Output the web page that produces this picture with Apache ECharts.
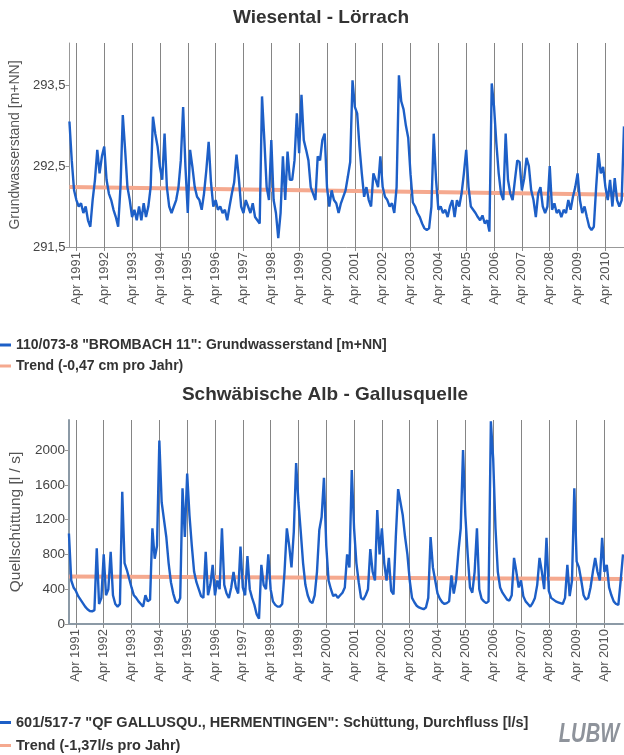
<!DOCTYPE html>
<html><head><meta charset="utf-8">
<script src="https://cdn.jsdelivr.net/npm/echarts@6/dist/echarts.min.js"></script>
<style>html,body{margin:0;padding:0;background:#fff}#c{width:624px;height:755px}</style>
</head><body><div id="c"></div>
<script>
// ---- data ----
const months = ['Jan','Feb','Mär','Apr','Mai','Jun','Jul','Aug','Sep','Okt','Nov','Dez'];
const years = [1991,1992,1993,1994,1995,1996,1997,1998,1999,2000,2001,2002,2003,2004,2005,2006,2007,2008,2009,2010];
const categories = [];
years.forEach(y => months.forEach(m => categories.push(m + ' ' + y)));

// Wiesental - Lörrach, Grundwasserstand [m+NN], monthly (Jan 1991 - Dez 2010)
const groundwater = [
 293.05,292.57,292.20,292.08,292.00,292.04,291.92,292.00,291.83,291.75,292.08,292.33,
 292.70,292.41,292.62,292.74,292.33,292.16,292.08,291.96,291.87,291.75,292.24,293.13,
 292.70,292.24,292.08,291.87,291.96,291.83,292.00,291.83,292.04,291.87,292.00,292.24,
 293.11,292.90,292.74,292.49,292.33,292.90,292.24,292.00,291.92,292.00,292.08,292.24,
 292.57,293.23,292.49,291.92,292.70,292.49,292.24,292.12,292.08,291.96,292.16,292.45,
 292.80,292.30,292.00,292.08,291.96,292.00,291.92,291.96,291.83,292.00,292.16,292.30,
 292.64,292.35,292.00,291.92,292.08,292.00,291.92,292.04,291.87,291.83,291.79,293.36,
 292.82,292.24,292.08,292.82,292.08,291.92,291.61,291.92,292.62,292.08,292.68,292.33,
 292.33,292.57,293.15,292.66,293.38,292.82,292.70,292.57,292.24,292.16,292.08,292.62,
 292.57,292.82,292.90,292.24,292.00,292.20,292.08,292.04,291.92,292.04,292.12,292.20,
 292.37,292.55,293.56,293.23,293.15,292.74,292.41,292.12,292.24,292.08,292.00,292.41,
 292.33,292.24,292.62,292.24,292.12,292.08,292.00,292.04,291.92,292.24,293.62,293.30,
 293.20,293.00,292.85,292.40,292.05,292.00,291.92,291.87,291.79,291.73,291.71,291.73,
 292.00,292.90,292.33,291.96,292.00,291.92,291.96,291.87,292.00,292.08,291.87,292.08,
 292.00,292.16,292.41,292.70,292.24,292.00,291.96,291.92,291.87,291.83,291.89,291.79,
 291.83,291.69,293.52,293.23,292.78,292.41,292.16,292.08,292.90,292.33,292.16,292.08,
 292.33,292.57,292.55,292.20,292.35,292.60,292.50,292.20,292.08,291.87,292.16,292.24,
 292.00,291.92,292.00,292.50,291.96,292.04,291.92,291.96,291.87,291.96,291.92,292.08,
 291.96,292.12,292.24,292.41,292.08,291.92,292.00,291.87,291.75,291.71,291.75,292.24,
 292.66,292.41,292.49,292.24,292.08,292.33,292.00,292.35,292.08,292.00,292.08,292.99
];
// Schwäbische Alb - Gallusquelle, Quellschüttung [l/s], monthly
const discharge = [
 1040,500,420,380,320,280,240,200,170,150,145,160,
 870,230,300,800,330,400,830,330,230,200,230,1520,
 700,620,520,420,330,300,260,230,200,330,260,280,
 1100,750,900,2110,1400,1200,1000,700,480,350,260,240,
 300,1560,1000,1730,1250,900,600,480,400,320,300,830,
 330,450,680,330,500,400,1100,450,350,300,420,600,
 420,350,890,420,330,780,400,300,220,110,60,680,
 450,400,800,400,260,220,200,200,230,600,1100,900,
 650,1060,1850,1400,1060,700,450,330,260,240,330,600,
 1080,1230,1680,900,500,400,320,340,300,330,360,420,
 800,650,1770,1100,700,480,300,280,330,400,860,600,
 500,1310,800,1100,700,500,760,380,340,1000,1550,1400,
 1250,1000,800,500,300,250,210,190,180,170,190,300,
 1000,650,500,350,290,250,230,240,260,560,350,500,
 830,1100,2000,1250,800,420,360,600,1100,400,290,260,
 240,260,2330,1900,1100,600,420,360,320,280,270,330,
 760,600,420,500,320,260,230,200,240,300,450,760,
 600,400,990,380,300,280,260,250,240,230,300,680,
 320,500,1560,720,650,500,330,280,300,420,600,760,
 600,500,990,600,680,420,330,260,230,220,500,800
];
const gwTrend = [292.24, 292.145];   // start, end
const qTrend = [545, 518];
const gwName = '110/073-8 "BROMBACH 11": Grundwasserstand [m+NN]';
const gwTrendName = 'Trend (-0,47 cm pro Jahr)';
const qName = '601/517-7 "QF GALLUSQU., HERMENTINGEN": Schüttung, Durchfluss [l/s]';
const qTrendName = 'Trend (-1,37l/s pro Jahr)';

// ---- chart ----
const FONT = '"Liberation Sans", Arial, sans-serif';
const BLUE = '#1d5fc7';
const SALMON = '#f5a98f';
const isApril = (idx) => idx % 12 === 3;
const last = categories.length - 1;

function xAxisFor(grid, axisColor, axisWidth) {
  return {
    type: 'category', gridIndex: grid, data: categories, boundaryGap: false,
    axisLine: { show: true, lineStyle: { color: axisColor, width: axisWidth } },
    axisTick: { show: true, interval: isApril, length: 4, lineStyle: { color: '#888' } },
    axisLabel: { interval: isApril, rotate: 90, color: '#555', fontSize: 13, fontFamily: FONT, margin: 5 },
    splitLine: { show: true, interval: isApril, lineStyle: { color: '#858585', width: 1 } }
  };
}

const chart = echarts.init(document.getElementById('c'), null, { renderer: 'canvas' });
chart.setOption({
  backgroundColor: '#ffffff',
  animation: false,
  grid: [
    { left: 68, top: 43, width: 556, height: 204 },
    { left: 63, top: 420, width: 560, height: 204 }
  ],
  xAxis: [ xAxisFor(0, '#999', 1), xAxisFor(1, '#8c9aa6', 2) ],
  yAxis: [
    { type: 'value', gridIndex: 0, min: 291.5, max: 294.02, interval: 1,
      name: 'Grundwasserstand [m+NN]', nameLocation: 'middle', nameGap: 44,
      nameTextStyle: { color: '#555', fontSize: 14, fontFamily: FONT },
      axisLine: { show: true, lineStyle: { color: '#999', width: 1 } },
      axisTick: { show: true, length: 4, lineStyle: { color: '#999' } },
      axisLabel: { showMaxLabel: false, color: '#444', fontSize: 13, fontFamily: FONT, margin: 4,
        formatter: v => v.toFixed(1).replace('.', ',') },
      splitLine: { show: false } },
    { type: 'value', gridIndex: 1, min: 0, max: 2345, interval: 400,
      name: 'Quellschüttung [l / s]', nameLocation: 'middle', nameGap: 39,
      nameTextStyle: { color: '#555', fontSize: 15.5, fontFamily: FONT },
      axisLine: { show: true, lineStyle: { color: '#8c9aa6', width: 2 } },
      axisTick: { show: true, length: 4, lineStyle: { color: '#999' } },
      axisLabel: { showMaxLabel: false, color: '#444', fontSize: 13.5, fontFamily: FONT, margin: 4,
        formatter: v => String(v) },
      splitLine: { show: false } }
  ],
  legend: [
    { orient: 'vertical', left: 0, top: 338, padding: 0, itemGap: 7, itemWidth: 11, itemHeight: 3, icon: 'rect',
      data: [gwName, gwTrendName],
      textStyle: { fontSize: 14, fontWeight: 'bold', color: '#333', fontFamily: FONT } },
    { orient: 'vertical', left: 0, top: 715, padding: 0, itemGap: 8, itemWidth: 11, itemHeight: 3, icon: 'rect',
      data: [qName, qTrendName],
      textStyle: { fontSize: 14.5, fontWeight: 'bold', color: '#333', fontFamily: FONT } }
  ],
  graphic: [
    { type: 'text', x: 321, y: 18, style: { text: 'Wiesental - Lörrach', font: 'bold 19px ' + FONT, fill: '#333', align: 'center', verticalAlign: 'middle' } },
    { type: 'text', x: 325, y: 395, style: { text: 'Schwäbische Alb - Gallusquelle', font: 'bold 19px ' + FONT, fill: '#333', align: 'center', verticalAlign: 'middle' } },
    { type: 'text', x: 589, y: 734, scaleX: 0.72, style: { text: 'LUBW', font: 'italic 900 28px ' + FONT, fill: '#8e939b', align: 'center', verticalAlign: 'middle' } }
  ],
  series: [
    { name: gwTrendName, type: 'line', xAxisIndex: 0, yAxisIndex: 0, z: 2, showSymbol: false, silent: true,
      data: [[categories[0], gwTrend[0]], [categories[last], gwTrend[1]]],
      itemStyle: { color: SALMON }, lineStyle: { color: SALMON, width: 4 } },
    { name: gwName, type: 'line', xAxisIndex: 0, yAxisIndex: 0, z: 3, showSymbol: false,
      data: groundwater, itemStyle: { color: BLUE }, lineStyle: { color: BLUE, width: 2.4 } },
    { name: qTrendName, type: 'line', xAxisIndex: 1, yAxisIndex: 1, z: 2, showSymbol: false, silent: true,
      data: [[categories[0], qTrend[0]], [categories[last], qTrend[1]]],
      itemStyle: { color: SALMON }, lineStyle: { color: SALMON, width: 4 } },
    { name: qName, type: 'line', xAxisIndex: 1, yAxisIndex: 1, z: 3, showSymbol: false,
      data: discharge, itemStyle: { color: BLUE }, lineStyle: { color: BLUE, width: 2.4 } }
  ]
});
</script></body></html>
